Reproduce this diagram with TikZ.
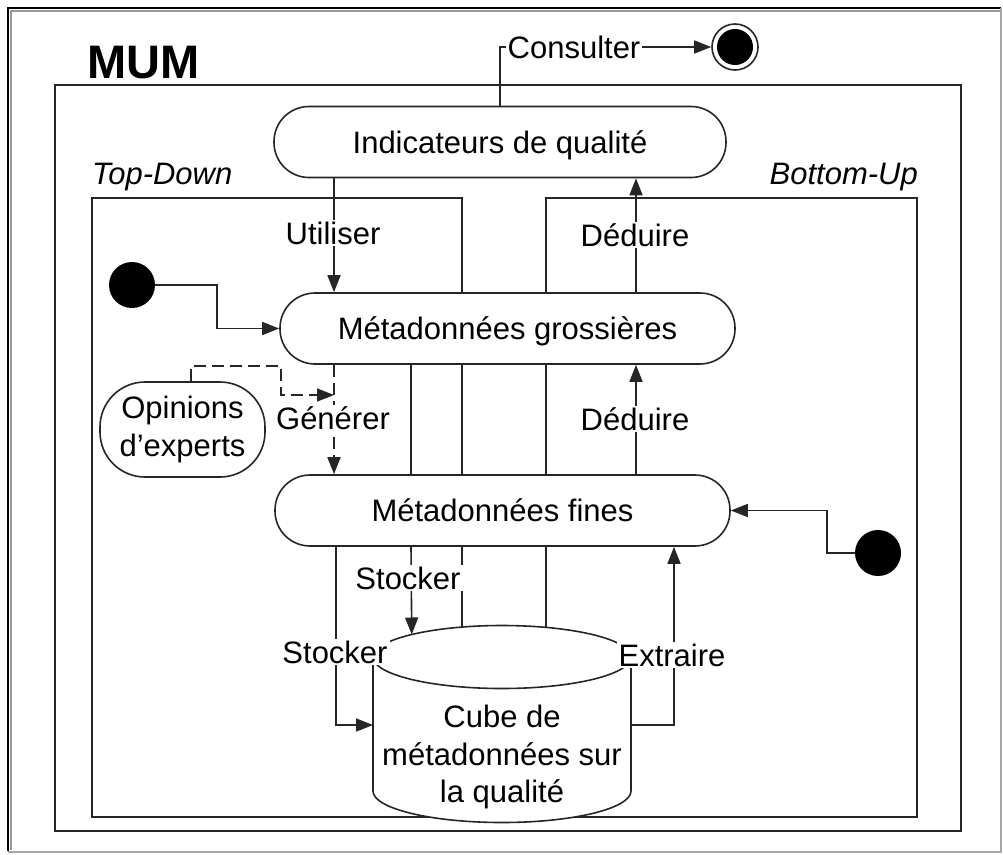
\documentclass[tikz,border=0pt]{standalone}
\usepackage{fontspec}
\setmainfont{Liberation Sans}
\usetikzlibrary{arrows.meta,shapes.geometric,calc}
\pgfdeclarelayer{bg}
\pgfdeclarelayer{fg}
\pgfsetlayers{bg,main,fg}

\begin{document}
\begin{tikzpicture}[x=1pt,y=-1pt,
  every node/.style={font=\fontsize{31}{37.5}\selectfont},
  line/.style={line width=1.6pt, draw=black!85},
  flow/.style={line, -{Triangle[length=17pt,width=13pt]}},
  capc/.style={text height=22.2pt, text depth=0pt},
  state/.style={line, fill=white, rounded corners=35pt, minimum height=71pt, inner sep=0pt},
  lbl/.style={fill=white, inner sep=2pt, capc},
  dot/.style={circle, fill=black, minimum size=46pt, inner sep=0pt},
]
\useasboundingbox (0,0) rectangle (1003,854);

% title
\node[anchor=west, inner sep=0pt, font=\fontsize{47}{50}\selectfont\bfseries] (mum) at (87,62.5) {MUM};

% states
\node[state, capc, minimum width=452pt] (ind) at (500,142) {Indicateurs de qualité};
\node[state, capc, minimum width=455pt] (gross) at (507.5,328.5) {Métadonnées grossières};
\node[state, capc, minimum width=455pt] (fines) at (502.5,510.5) {Métadonnées fines};
\node[state, rounded corners=45pt, minimum width=165pt, minimum height=95pt, align=center] (op) at (182.5,429.5) {Opinions\\d’experts};

% initial and final states
\node[dot] (ini1) at (132,285) {};
\node[dot] (ini2) at (878,553) {};
\node[circle, line, minimum size=46pt, inner sep=0pt] (fin) at (735,47) {};
\node[dot, minimum size=36pt] (fincore) at (fin) {};

% metadata cube (cylinder)
\coordinate (cylW) at (373,657);
\coordinate (cylE) at (631,657);
\fill[white] (cylW) -- ++(0,134) arc[start angle=180, end angle=360, x radius=129pt, y radius=31.5pt] -- (cylE) -- cycle;
\draw[line] (cylW) -- ++(0,134) arc[start angle=180, end angle=360, x radius=129pt, y radius=31.5pt] -- (cylE);
\node[ellipse, line, fill=white, minimum width=258pt, minimum height=63pt, inner sep=0pt, outer sep=0pt] (cubetop) at (502,657) {};
\node[align=center, inner sep=0pt] (cube) at (502,757) {Cube de\\métadonnées sur\\la qualité};
\coordinate (cubeL) at (373,725);
\coordinate (cubeR) at (631,725);

% connector columns
\coordinate (cU) at (334,0);
\coordinate (cL) at (336,0);
\coordinate (cS) at (411,0);
\coordinate (cD) at (636,0);
\coordinate (cE) at (674,0);
\coordinate (gen) at (334,395);

\begin{pgfonlayer}{bg}
  \fill[white] (0,0) rectangle (1003,854);

  % window-like outer frame
  \draw[line width=2.5pt, black] (8,851) -- (8,8) -- (1001,8);
  \draw[line width=1.2pt, black!40] (11,850) -- (11,11) -- (1000,11);
  \draw[line width=1.5pt, black!35] (8,852) -- (1001,852) -- (1001,8);

  % swimlane frames
  \draw[line] (55,85) rectangle (961,831);
  \draw[line] (92,198) rectangle (462,817);
  \draw[line] (546,198) rectangle (917,817);

  % transitions
  \draw[flow] (ind.north) |- (fin.west);
  \draw[flow] (ind.south -| cU) -- (gross.north -| cU);
  \draw[flow] (gross.north -| cD) -- (ind.south -| cD);
  \draw[flow] (ini1.east) -- ++(62,0) |- (gross.west);
  \draw[flow, dash pattern=on 12pt off 6pt] (gross.south -| cU) -- (fines.north -| cU);
  \draw[flow, dash pattern=on 12pt off 6pt] ([xshift=8.5pt]op.north) -- ++(0,-15) -- ++(90,0) |- (gen);
  \draw[flow] (fines.north -| cD) -- (gross.south -| cD);
  \draw[line] (gross.south -| cS) -- (fines.north -| cS);
  \draw[flow] (fines.south -| cS) -- (cubetop.166);
  \draw[flow] (fines.south -| cL) |- (cubeL);
  \draw[flow] (cubeR) -| (fines.south -| cE);
  \draw[flow] (ini2.west) -- ++(-28,0) |- (fines.east);
\end{pgfonlayer}

\begin{pgfonlayer}{fg}
  \node[lbl] (tU) at (333,233) {Utiliser};
  \node[lbl] (tD1) at (635,235) {Déduire};
  \node[lbl] (tG) at (333,418) {Générer};
  \node[lbl] (tD2) at (635,419) {Déduire};
  \node[lbl] (tS1) at (408,578) {Stocker};
  \node[lbl] (tS2) at (335,652) {Stocker};
  \node[lbl] (tE) at (672,655) {Extraire};
  \node[lbl] (tC) at (574,47) {Consulter};
  \node[anchor=west, inner sep=0pt, capc, font=\fontsize{31}{37.5}\selectfont\itshape] (td) at (92,173) {Top-Down};
  \node[anchor=east, inner sep=0pt, capc, font=\fontsize{31}{37.5}\selectfont\itshape] (bu) at (918,173) {Bottom-Up};
\end{pgfonlayer}
\end{tikzpicture}
\end{document}
